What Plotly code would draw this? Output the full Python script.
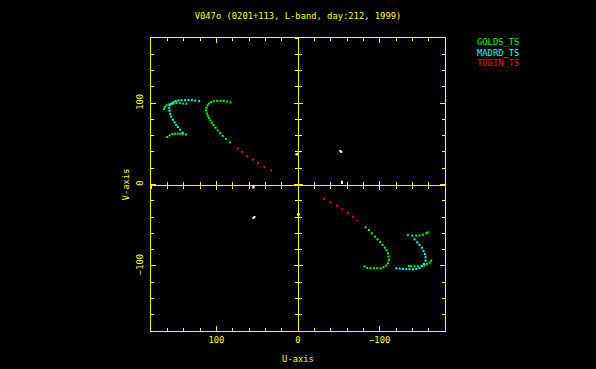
import plotly.graph_objects as go

# ---------------- data ----------------
title_text = "V047o (0201+113, L-band, day:212, 1999)"
x_title = "U-axis"
y_title = "V-axis"
series_names = ["GOLDS_TS", "MADRD_TS", "TDBIN_TS"]
series_colors = ["#00ff00", "#00ffff", "#ff0000"]

tick_vals = [-100, 0, 100]
tick_text = ["\u2212100", "0", "100"]

golds_u = [82.7, 86.8, 90.9, 94.9, 99.0, 103.1, 106.4, 108.8, 110.8, 112.1, 112.5, 111.7,
           110.4, 108.8, 107.2, 105.5, 103.5, 101.0, 98.2, 95.3, 92.1, 88.0, 83.5,
           164.2, 163.0, 161.0, 158.5, 156.1, 152.8, 148.8, 144.7, 140.6, 136.5,
           160.2, 157.0, 153.7, 150.4, 147.2, 143.9, 140.7, 137.0,
           -82.8, -86.9, -90.5, -94.2, -97.5, -100.7, -103.6, -106.4, -108.5, -110.1, -110.9,
           -111.3, -110.1, -108.1, -104.8, -101.1, -97.1, -93.0, -88.9, -84.8, -81.6,
           -134.6, -139.9, -144.8, -148.8, -152.9, -157.0, -159.0,
           -163.1, -161.1, -158.2, -155.0, -150.9, -146.8, -142.7, -138.6, -135.8]
golds_v = [100.8, 102.0, 102.8, 102.8, 102.8, 102.4, 101.2, 99.5, 97.1, 94.2, 91.0, 87.3,
           84.5, 81.6, 78.7, 75.9, 73.0, 69.8, 66.5, 63.2, 59.6, 55.9, 51.8,
           92.6, 95.1, 97.1, 98.3, 99.1, 99.5, 100.0, 100.0, 99.5, 99.1,
           58.3, 60.3, 62.0, 62.4, 62.4, 62.4, 62.4, 61.6,
           -52.7, -56.0, -60.0, -64.1, -67.4, -70.6, -74.3, -77.6, -80.8, -84.5, -88.6,
           -92.7, -96.7, -99.6, -101.6, -102.9, -102.9, -102.9, -102.9, -102.5, -100.8,
           -62.1, -62.9, -62.9, -62.5, -61.7, -60.0, -58.8,
           -93.5, -96.0, -97.6, -99.2, -100.0, -100.4, -100.4, -100.4, -100.0]

madrd_u = [121.0, 125.9, 130.0, 134.1, 138.2, 142.6, 146.3, 149.6, 152.4, 154.9, 156.9,
           157.7, 157.3, 156.5, 155.3, 153.2, 151.2, 149.2, 147.1, 144.3, 141.4,
           -142.7, -146.0, -148.8, -151.7, -153.7, -155.4, -156.2, -156.2, -154.1, -152.1,
           -148.8, -144.8, -140.7, -136.6, -132.5, -128.5, -124.4, -120.3]
madrd_v = [102.4, 103.2, 103.6, 104.0, 103.6, 103.6, 103.2, 102.4, 101.2, 99.5, 97.5,
           94.2, 90.6, 86.9, 83.6, 79.6, 76.3, 73.4, 70.6, 67.3, 63.6,
           -67.4, -71.0, -74.3, -77.6, -81.7, -85.3, -89.4, -93.5, -97.6, -100.0,
           -102.5, -103.7, -104.1, -104.1, -104.1, -103.7, -103.3, -102.9]

tdbin_u = [73.7, 68.4, 62.3, 55.0, 48.9, 41.1, 33.0,
           -31.8, -39.6, -47.7, -54.2, -61.2, -67.3, -72.6]
tdbin_v = [44.1, 40.0, 34.7, 30.6, 26.5, 21.6, 17.5,
           -17.6, -22.1, -26.2, -30.6, -35.1, -39.6, -44.1]

other_u = [-51.8, -53.0, 53.4, 54.6, -53.8, -53.8, 54.6, 54.6, 2.0, 0.0, 0.0, -1.0]
other_v = [41.2, 40.0, -40.0, -41.2, 3.3, 1.8, -2.6, -3.8, 37.1, 37.1, -37.0, -36.6]

axis_range = [-180, 180]

# ---------------- styling ----------------
YEL = "#ffff00"
FONT = "DejaVu Sans Mono"
FS = 8.8
MS = 2

fig = go.Figure()

all_series = [(golds_u, golds_v), (madrd_u, madrd_v), (tdbin_u, tdbin_v)]
for (u, v), name, col in zip(all_series, series_names, series_colors):
    fig.add_trace(go.Scatter(x=u, y=v, mode="markers", name=name,
                             marker=dict(color=col, size=MS, symbol="square",
                                         line=dict(width=0)),
                             showlegend=False))
fig.add_trace(go.Scatter(x=other_u, y=other_v, mode="markers", name="other",
                         marker=dict(color="#ffffff", size=MS, symbol="square",
                                     line=dict(width=0)),
                         showlegend=False))

# dummy traces to activate centre-cross axes
for xa, ya in [("x2", "y"), ("x3", "y"), ("x", "y2"), ("x", "y3")]:
    fig.add_trace(go.Scatter(x=[None], y=[None], xaxis=xa, yaxis=ya,
                             mode="markers", showlegend=False, hoverinfo="skip"))

main_common = dict(showline=True, linecolor=YEL, linewidth=1, mirror="ticks",
                   ticks="inside", ticklen=5, tickwidth=1, tickcolor=YEL,
                   tickvals=tick_vals, ticktext=tick_text,
                   minor=dict(dtick=20, tick0=0, ticks="inside", ticklen=3,
                              tickcolor=YEL, tickwidth=1, showgrid=False),
                   showgrid=False, zeroline=False, automargin=False,
                   tickfont=dict(family=FONT, size=FS, color=YEL),
                   fixedrange=True)

fig.update_layout(
    xaxis=dict(range=axis_range[::-1], autorange=False, ticklabelstandoff=0,
               title=dict(text=x_title, font=dict(family=FONT, size=FS, color=YEL),
                          standoff=12),
               **main_common),
    yaxis=dict(range=axis_range, autorange=False, tickangle=-90, ticklabelstandoff=3,
               title=dict(text=y_title, font=dict(family=FONT, size=FS, color=YEL),
                          standoff=4),
               **main_common),
)

center_common = dict(showgrid=False, zeroline=False, showticklabels=False,
                     tickwidth=1, tickcolor=YEL, dtick=100, tick0=0, ticklen=4,
                     automargin=False, fixedrange=True)
fig.update_layout(
    xaxis2=dict(overlaying="x", anchor="free", position=0.5, side="bottom",
                range=axis_range[::-1], autorange=False,
                showline=True, linecolor=YEL, linewidth=1, ticks="inside",
                minor=dict(dtick=20, tick0=0, ticks="inside", ticklen=3,
                           tickcolor=YEL, tickwidth=1),
                **center_common),
    xaxis3=dict(overlaying="x", anchor="free", position=0.5, side="bottom",
                range=axis_range[::-1], autorange=False,
                showline=False, ticks="outside",
                minor=dict(dtick=20, tick0=0, ticks="outside", ticklen=3,
                           tickcolor=YEL, tickwidth=1),
                **center_common),
    yaxis2=dict(overlaying="y", anchor="free", position=0.5, side="left",
                range=axis_range, autorange=False,
                showline=True, linecolor=YEL, linewidth=1, ticks="inside",
                minor=dict(dtick=20, tick0=0, ticks="inside", ticklen=3,
                           tickcolor=YEL, tickwidth=1),
                **center_common),
    yaxis3=dict(overlaying="y", anchor="free", position=0.5, side="left",
                range=axis_range, autorange=False,
                showline=False, ticks="outside",
                minor=dict(dtick=20, tick0=0, ticks="outside", ticklen=3,
                           tickcolor=YEL, tickwidth=1),
                **center_common),
)

# legend as coloured text
leg_y = [0.986, 0.950, 0.915]
for name, col, yy in zip(series_names, series_colors, leg_y):
    fig.add_annotation(text=name, x=1.102, y=yy, xref="paper", yref="paper",
                       xanchor="left", yanchor="middle", showarrow=False,
                       font=dict(family=FONT, size=FS, color=col))

fig.update_layout(
    width=596, height=369,
    margin=dict(l=151, r=151, t=38, b=38, pad=0, autoexpand=False),
    paper_bgcolor="#000000", plot_bgcolor="#000000",
    title=dict(text=title_text, x=0.5, xanchor="center", xref="container",
               y=1 - 16 / 369, yanchor="middle", yref="container",
               font=dict(family=FONT, size=FS, color=YEL)),
    showlegend=False,
)

fig.write_html("out.html", config={"displayModeBar": False},
               post_script="document.body.style.margin='0';"
                           "document.body.style.background='#000';")
